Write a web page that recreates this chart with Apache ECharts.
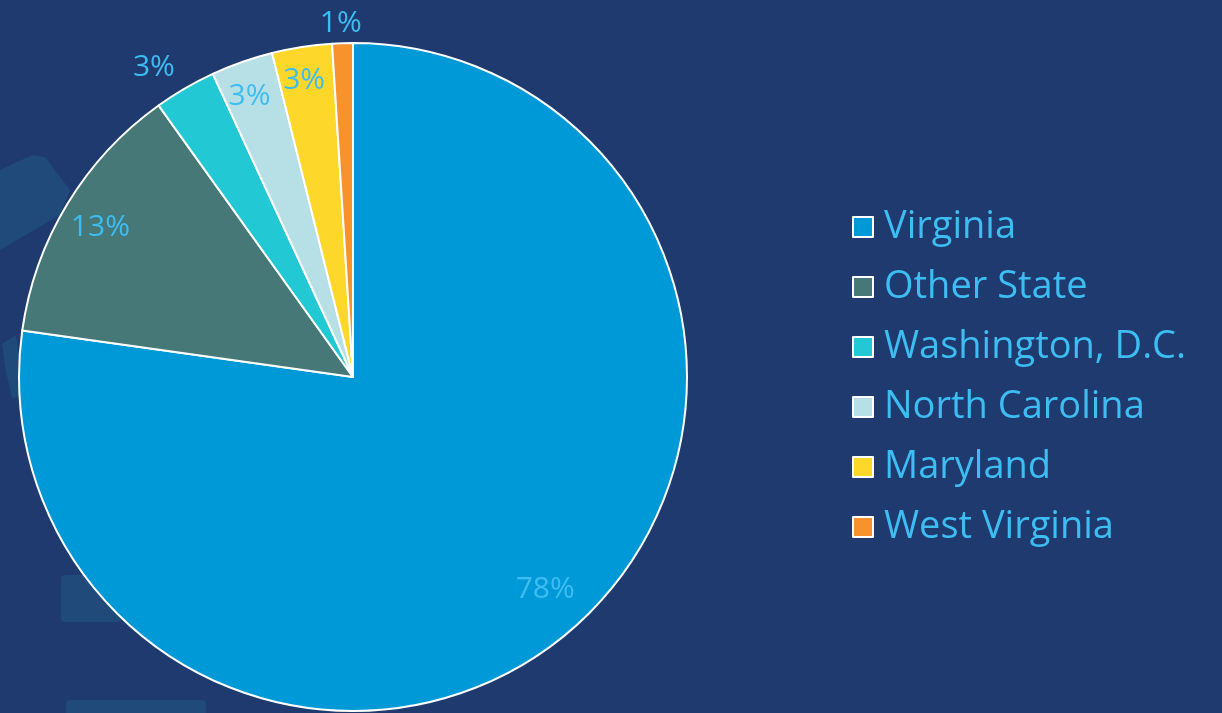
<!DOCTYPE html>
<html>
<head>
<meta charset="utf-8">
<script src="https://cdn.jsdelivr.net/npm/echarts@6/dist/echarts.min.js"></script>
<style>
  html, body { margin: 0; padding: 0; background: #1e3a6e; }
  #chart { width: 1222px; height: 713px; }
</style>
</head>
<body>
<div id="chart"></div>
<script>
// slice data, clockwise from 12 o'clock
const states = ['Virginia', 'Other State', 'Washington, D.C.', 'North Carolina', 'Maryland', 'West Virginia']
const shares = [77.3, 12.9, 3.0, 3.0, 2.9, 1.0]
const pctLabels = ['78%', '13%', '3%', '3%', '3%', '1%']
const colors = ['#0099d8', '#467878', '#22c9d4', '#b7e0e6', '#fdd72a', '#f7922d']
// which labels sit outside the pie
const outsideLabel = [false, false, true, false, false, true]

const labelColor = '#3dbdf2'
const font = '"Open Sans", Lato, sans-serif'
const center = [353, 377]
const R = 334
// small nudges so labels land where the original's best-fit put them
const labelNudge = [[0, -9], [-2, 2], [-18, 2], [-6, -4], [-4, -7], [-1, 6]]

const chart = echarts.init(document.getElementById('chart'))

function overlayData(showOutside) {
  return states.map((name, i) => ({
    name,
    value: shares[i],
    label: {
      show: outsideLabel[i] === showOutside,
      formatter: pctLabels[i],
      fontFamily: font,
      fontSize: 30,
      color: labelColor,
      offset: labelNudge[i],
    },
  }))
}

const overlayBase = {
  type: 'pie',
  center,
  silent: true,
  legendHoverLink: false,
  avoidLabelOverlap: false,
  itemStyle: { color: 'rgba(0,0,0,0)', borderWidth: 0 },
  emphasis: { disabled: true },
  labelLine: { show: false },
  label: {
    position: 'inside',
    color: labelColor,
    fontFamily: font,
    fontSize: 30,
  },
}

chart.setOption({
  backgroundColor: '#1e3a6e',
  animation: false,
  // faint background decoration, left side
  graphic: [
    { type: 'polygon', silent: true, z: -10, shape: { points: [[0, 170], [32, 155], [45, 157], [70, 190], [60, 215], [0, 250]] }, style: { fill: '#1f4a79' } },
    { type: 'polygon', silent: true, z: -10, shape: { points: [[2, 344], [16, 335], [24, 395], [12, 398], [6, 372]] }, style: { fill: '#1f4a79' } },
    { type: 'rect', silent: true, z: -10, shape: { x: 61, y: 575, width: 60, height: 47, r: 4 }, style: { fill: '#1f4a79' } },
    { type: 'rect', silent: true, z: -10, shape: { x: 66, y: 700, width: 140, height: 20, r: 4 }, style: { fill: '#1f4a79' } },
  ],
  legend: {
    orient: 'vertical',
    left: 847,
    top: 200,
    itemWidth: 20,
    itemHeight: 20,
    itemGap: 16,
    icon: 'rect',
    itemStyle: { borderColor: '#ffffff', borderWidth: 2 },
    textStyle: {
      color: labelColor,
      fontFamily: font,
      fontSize: 38,
      lineHeight: 44,
      padding: [0, 0, 0, 6],
    },
    data: states,
  },
  series: [
    {
      name: 'main',
      type: 'pie',
      center,
      radius: [0, R],
      startAngle: 90,
      clockwise: true,
      avoidLabelOverlap: false,
      label: { show: false },
      labelLine: { show: false },
      itemStyle: { borderColor: '#ffffff', borderWidth: 2 },
      emphasis: { scale: false },
      data: states.map((name, i) => ({
        name,
        value: shares[i],
        itemStyle: { color: colors[i] },
      })),
    },
    Object.assign({}, overlayBase, { name: 'inLabels', radius: [246, R], data: overlayData(false) }),
    Object.assign({}, overlayBase, { name: 'outLabels', radius: [R, 380], data: overlayData(true) }),
  ],
})
</script>
</body>
</html>
